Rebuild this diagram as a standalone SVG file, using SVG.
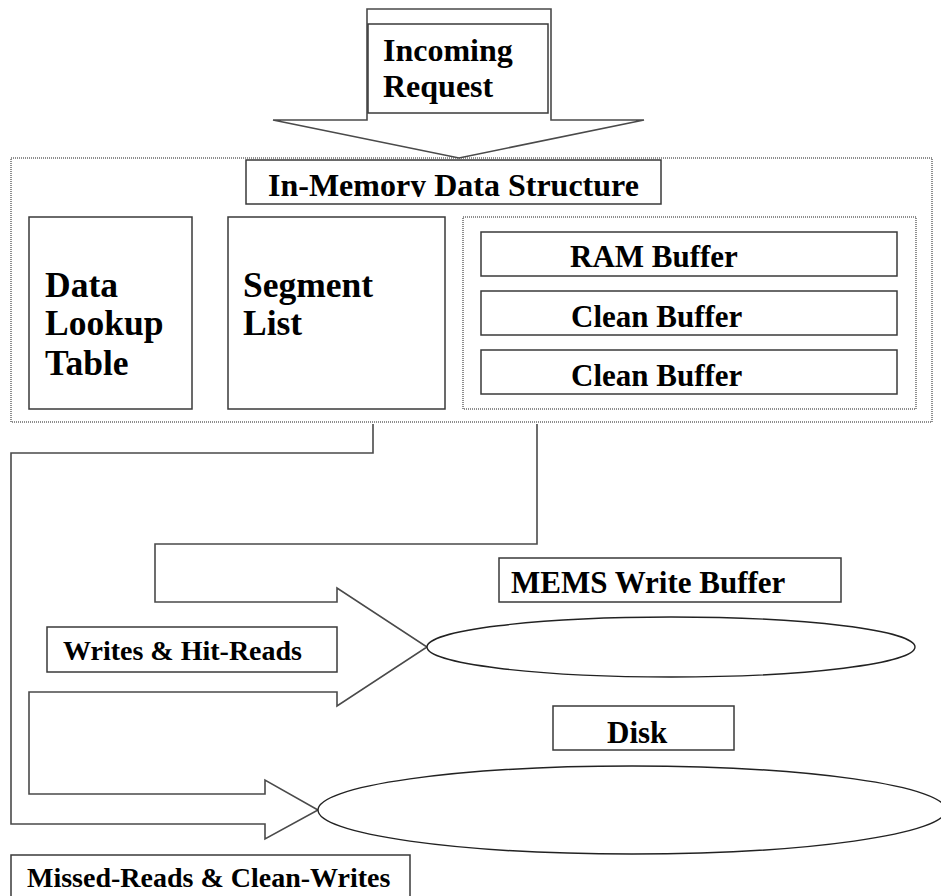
<svg xmlns="http://www.w3.org/2000/svg" width="941" height="896" viewBox="0 0 941 896">
  <style>
    .box { fill: #fff; stroke: #3a3a3a; stroke-width: 1.5; }
    .dotted { fill: none; stroke: #6a6a6a; stroke-width: 1.5; stroke-dasharray: 1 1; }
    .flow { fill: #fff; stroke: #4a4a4a; stroke-width: 1.6; stroke-linejoin: miter; }
    .disk { fill: #fff; stroke: #222; stroke-width: 1.4; }
    text { font-family: "Liberation Serif", "Times New Roman", serif; font-weight: bold; fill: #000; }
    .big { font-size: 35.5px; }
    .mid { font-size: 31px; }
    .small { font-size: 28px; }
  </style>
  <defs>
    <clipPath id="titleClip">
      <rect x="246" y="160" width="415" height="37"/>
    </clipPath>
  </defs>

  <rect width="941" height="896" fill="#fff"/>

  <!-- in-memory container -->
  <g id="in-memory">
    <rect class="dotted" x="11" y="158" width="921" height="264"/>
    <rect class="box" x="246" y="160" width="415" height="44"/>
    <text class="mid" x="268" y="196" clip-path="url(#titleClip)" style="font-size:32px">In-Memory Data Structure</text>
  </g>

  <g id="data-lookup-table">
    <rect class="box" x="29" y="217" width="163" height="192"/>
    <text class="big" x="45" y="297">Data</text>
    <text class="big" x="45" y="335">Lookup</text>
    <text class="big" x="45" y="375">Table</text>
  </g>

  <g id="segment-list">
    <rect class="box" x="228" y="217" width="217" height="192"/>
    <text class="big" x="243" y="297">Segment</text>
    <text class="big" x="243" y="335">List</text>
  </g>

  <g id="buffers">
    <rect class="dotted" x="463" y="217" width="453" height="192"/>
    <g id="ram-buffer">
      <rect class="box" x="481" y="232" width="416" height="44"/>
      <text class="mid" x="570" y="267">RAM Buffer</text>
    </g>
    <g id="clean-buffer-1">
      <rect class="box" x="481" y="291" width="416" height="44"/>
      <text class="mid" x="571" y="327">Clean Buffer</text>
    </g>
    <g id="clean-buffer-2">
      <rect class="box" x="481" y="350" width="416" height="44"/>
      <text class="mid" x="571" y="386">Clean Buffer</text>
    </g>
  </g>

  <!-- connectors: incoming block arrow and the two-headed routing arrow -->
  <g id="connectors">
    <path class="flow" d="M367,9 H551 V120 H644 L459,158 L273,120 H367 Z"/>
    <path class="flow" d="M373,424 V453 H11 V824 H265 V839 L318,810 L265,780 V794 H29 V692 H337 V706 L427,647 L337,588 V602 H155 V544 H537 V424"/>
  </g>

  <g id="incoming-request">
    <rect class="box" x="368" y="24" width="180" height="89"/>
    <text class="mid" x="383" y="61" style="font-size:32px">Incoming</text>
    <text class="mid" x="383" y="97" style="font-size:32px">Request</text>
  </g>

  <g id="mems-write-buffer">
    <rect class="box" x="499" y="558" width="342" height="44"/>
    <text class="mid" x="511" y="593">MEMS Write Buffer</text>
    <ellipse class="disk" cx="671" cy="647" rx="244" ry="30"/>
  </g>

  <g id="writes-hit-reads">
    <rect class="box" x="47" y="627" width="290" height="45"/>
    <text class="small" x="63" y="660">Writes &amp; Hit-Reads</text>
  </g>

  <g id="disk">
    <rect class="box" x="553" y="706" width="181" height="44"/>
    <text class="mid" x="607" y="743">Disk</text>
    <ellipse class="disk" cx="632" cy="810" rx="314" ry="44"/>
  </g>

  <g id="missed-reads-clean-writes">
    <rect class="box" x="11" y="855" width="399" height="50"/>
    <text class="small" x="27" y="887">Missed-Reads &amp; Clean-Writes</text>
  </g>
</svg>
